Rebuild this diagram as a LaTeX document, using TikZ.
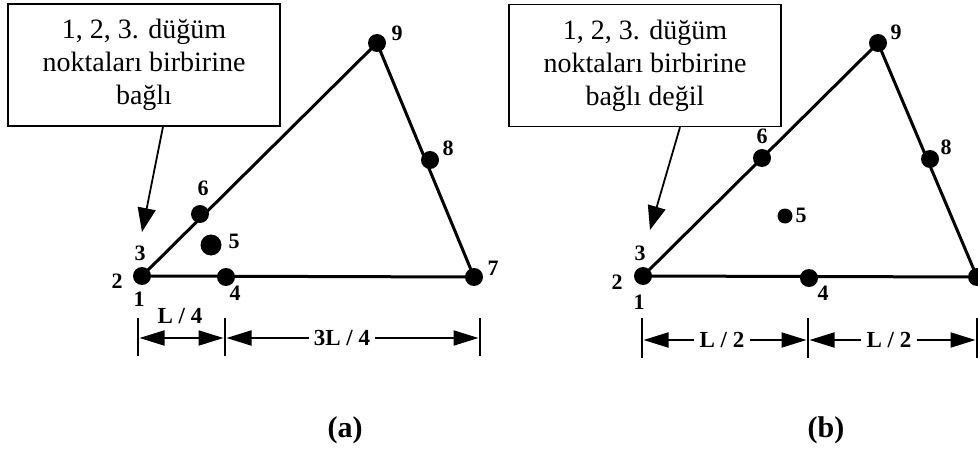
\documentclass[tikz,border=0pt]{standalone}
\usepackage{fontspec}
\setmainfont{Liberation Serif}
\usetikzlibrary{arrows.meta}

\tikzset{
  bar/.style={line width=3pt, line join=round},
  num/.style={font=\fontsize{22}{22}\selectfont\bfseries, inner sep=0pt},
  notebox/.style={draw, line width=1.4pt, minimum width=272pt, minimum height=122pt,
    align=center, inner sep=2pt, font=\fontsize{28}{33}\selectfont},
  callout/.style={line width=1.8pt, -{Triangle[length=24pt,width=18pt]}},
  dimarr/.style={line width=2pt, shorten >=1.5pt, -{Triangle[length=25pt,width=15pt]}},
  dimtick/.style={line width=1.3pt},
  dimlbl/.style={font=\fontsize{23}{23}\selectfont\bfseries, inner sep=5pt},
  panellbl/.style={font=\fontsize{30}{30}\selectfont\bfseries}
}

\begin{document}
\begin{tikzpicture}[x=1pt,y=-1pt]
  \useasboundingbox (0,0) rectangle (978,452);

  % ===== (a): nodes 1,2,3 tied together =====
  \node[notebox] (boxa) at (144,65) {1, 2, 3. düğüm\\noktaları birbirine\\bağlı};

  \foreach \n/\x/\y in {1/142/276, 4/226/277, 5/211/245, 6/200/214, 7/474/277, 8/430/160, 9/377/43}
    \coordinate (a\n) at (\x,\y);

  % element edges, then the node dots on top
  \draw[bar] (a1) -- (a7) -- (a9) -- cycle;
  \foreach \n in {1,4,6,7,8,9}
    \fill (a\n) circle (9);
  \fill (a5) circle (10.5);

  % node numbers
  \foreach \n/\x/\y in {1/139/299, 2/117/281, 3/140/253, 4/235/293, 5/234/241, 6/203/188, 7/493/268, 8/448/148, 9/397/33}
    \node[num] at (\x,\y) {\n};

  \coordinate (tipa) at (142,232);
  \draw[callout] ([xshift=19pt]boxa.south) -- (tipa);

  % dimensions L/4 and 3L/4
  \coordinate (da0) at (138,338);
  \coordinate (da1) at (225,338);
  \coordinate (da2) at (480,338);
  \foreach \d in {da0,da1,da2}
    \draw[dimtick] (\d) ++(0,-20) -- ++(0,38);
  \draw[line width=2pt, shorten <=1.5pt, shorten >=1.5pt,
    {Triangle[length=25pt,width=15pt]}-{Triangle[length=25pt,width=15pt]}] (da0) -- (da1);
  \node[dimlbl] (la) at (180,316) {L / 4};
  \node[dimlbl] (lb) at (342,338) {3L / 4};
  \draw[dimarr] (lb) -- (da1);
  \draw[dimarr] (lb) -- (da2);

  \node[panellbl] (capa) at (345,430) {(a)};

  % ===== (b): nodes 1,2,3 not tied =====
  \node[notebox] (boxb) at (645,65.5) {1, 2, 3. düğüm\\noktaları birbirine\\bağlı değil};

  \foreach \n/\x/\y in {1/643/276, 4/809/278, 5/785/216, 6/762/158, 7/977/277, 8/930/159, 9/878/43}
    \coordinate (b\n) at (\x,\y);

  \draw[bar] (b1) -- (b7) -- (b9) -- cycle;
  \foreach \n in {1,4,6,7,8,9}
    \fill (b\n) circle (9);
  \fill (b5) circle (7.5);

  \foreach \n/\x/\y in {1/639/302, 2/617/282, 3/640/253, 4/823/293, 5/801/215, 6/762/136, 8/946/147, 9/896/32}
    \node[num] at (\x,\y) {\n};

  \coordinate (tipb) at (650,230);
  \draw[callout] ([xshift=35pt]boxb.south) -- (tipb);

  % dimensions L/2 and L/2
  \coordinate (db0) at (642,340);
  \coordinate (db1) at (808,340);
  \coordinate (db2) at (977,340);
  \foreach \d in {db0,db1,db2}
    \draw[dimtick] (\d) ++(0,-22) -- ++(0,40);
  \node[dimlbl] (lc) at (722,340) {L / 2};
  \node[dimlbl] (ld) at (889,340) {L / 2};
  \draw[dimarr] (lc) -- (db0);
  \draw[dimarr] (lc) -- (db1);
  \draw[dimarr] (ld) -- (db1);
  \draw[dimarr] (ld) -- (db2);

  \node[panellbl] (capb) at (826,430) {(b)};
\end{tikzpicture}
\end{document}
